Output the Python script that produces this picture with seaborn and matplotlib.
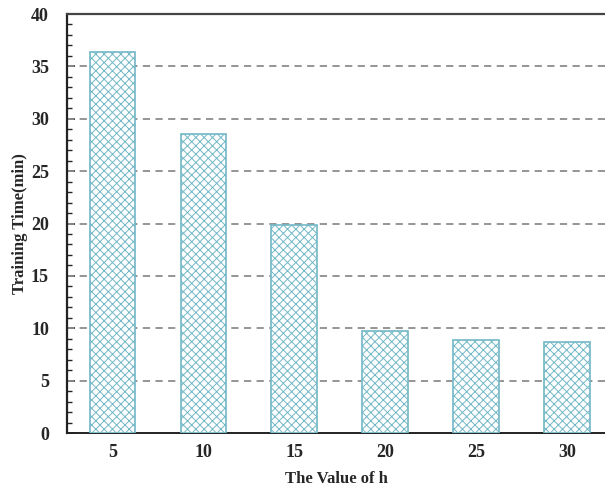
import matplotlib
matplotlib.use("Agg")
import matplotlib.pyplot as plt
from matplotlib.ticker import MultipleLocator
import seaborn as sns
import pandas as pd

h_values = ["5", "10", "15", "20", "25", "30"]
train_minutes = [36.4, 28.5, 19.9, 9.7, 8.9, 8.7]

sns.set_style("white")
plt.rcParams["font.family"] = ["Liberation Serif", "DejaVu Serif"]
plt.rcParams["font.weight"] = "bold"
plt.rcParams["hatch.linewidth"] = 0.7

df = pd.DataFrame({"h": h_values, "time": train_minutes})

fig = plt.figure(figsize=(6.05, 4.93), dpi=100)
ax = fig.add_axes([0.1107, 0.1217, 0.8893, 0.8499])

sns.barplot(data=df, x="h", y="time", order=h_values, color="white",
            width=0.5, saturation=1, ax=ax, zorder=3)
for p in ax.patches:
    p.set_facecolor("white")
    p.set_edgecolor("#72b8c6")
    p.set_hatch("xxxx")
    p.set_linewidth(1.2)

ax.set_ylim(0, 40)
ax.set_xlim(-0.5, 5.42)
ax.yaxis.set_major_locator(MultipleLocator(5))
ax.yaxis.set_minor_locator(MultipleLocator(1))
for y in range(5, 40, 5):
    ax.axhline(y, color="#8c8c8c", linestyle=(0, (4, 3)), linewidth=1.3, zorder=1)

ax.tick_params(axis="y", which="major", direction="in", length=6, width=1.2,
               labelsize=13, left=True, pad=13)
ax.tick_params(axis="y", which="minor", direction="in", length=3.5, width=1.0, left=True)
ax.tick_params(axis="x", which="both", length=0, labelsize=13, pad=8)
for lab in ax.get_xticklabels() + ax.get_yticklabels():
    lab.set_fontweight("bold")

for side in ["left", "bottom", "top"]:
    ax.spines[side].set_visible(True)
    ax.spines[side].set_color("#222222")
ax.spines["left"].set_linewidth(1.6)
ax.spines["bottom"].set_linewidth(1.4)
ax.spines["top"].set_linewidth(1.6)
ax.spines["top"].set_color("#444444")
ax.spines["right"].set_visible(False)

ax.set_xlabel("The Value of h", fontsize=12, fontweight="bold", labelpad=7)
ax.set_ylabel("Training Time(min)", fontsize=12, fontweight="bold", labelpad=2)

fig.savefig("out.png", dpi=100)
